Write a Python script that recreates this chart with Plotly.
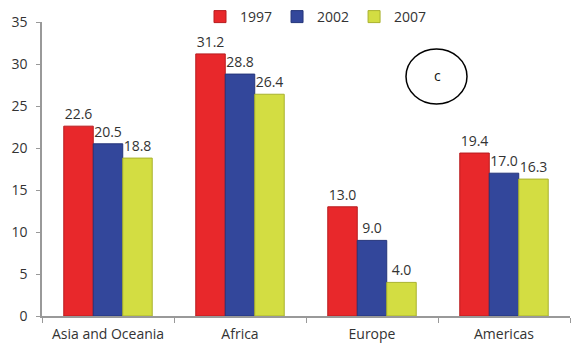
import plotly.graph_objects as go

regions = ["Asia and Oceania", "Africa", "Europe", "Americas"]
years = ["1997", "2002", "2007"]
values_1997 = [22.6, 31.2, 13.0, 19.4]
values_2002 = [20.5, 28.8, 9.0, 17.0]
values_2007 = [18.8, 26.4, 4.0, 16.3]
y_ticks = [0, 5, 10, 15, 20, 25, 30, 35]

colors = ["#E8282B", "#33479B", "#D3DD42"]
edges = ["#B81C1F", "#25357A", "#A9B22E"]

fig = go.Figure()
for name, vals, c, e in zip(years, [values_1997, values_2002, values_2007], colors, edges):
    fig.add_trace(go.Bar(
        name=name, x=regions, y=vals,
        marker=dict(color=c, line=dict(color=e, width=1)),
        text=[f"{v:.1f}" for v in vals], textposition="outside",
        textfont=dict(size=14, color="#333333"), cliponaxis=False,
    ))

L, R, T, B = 42, 4, 22, 29
W, H = 574, 345
pw, ph = W - L - R, H - T - B

fig.update_layout(
    width=W, height=H,
    margin=dict(l=L, r=R, t=T, b=B, autoexpand=False),
    barmode="group", bargap=0.33, bargroupgap=0,
    plot_bgcolor="white", paper_bgcolor="white",
    font=dict(family="Open Sans, DejaVu Sans, sans-serif", size=14, color="#333333"),
    legend=dict(orientation="h", x=(200 - L) / pw, xanchor="left", y=(316 - 17) / ph, yanchor="middle",
                font=dict(size=14), itemwidth=30, tracegroupgap=0, bgcolor="rgba(0,0,0,0)"),
    showlegend=True,
)
fig.update_yaxes(range=[0, 35], tickvals=y_ticks, showgrid=False, showline=True,
                 linecolor="#999999", linewidth=1.5, ticks="outside", ticklen=4,
                 tickcolor="#999999", zeroline=False, ticklabelstandoff=6)
fig.update_xaxes(showgrid=False, showline=True, linecolor="#999999", linewidth=1.5,
                 ticks="outside", ticklen=5, tickcolor="#999999", tickson="boundaries",
                 ticklabelstandoff=4)

fig.add_shape(type="circle", xref="paper", yref="paper",
              x0=(406 - L) / pw, x1=(467 - L) / pw,
              y0=(316 - 104) / ph, y1=(316 - 49) / ph,
              line=dict(color="black", width=1.5))
fig.add_annotation(text="c", xref="paper", yref="paper",
                   x=(437 - L) / pw, y=(316 - 77) / ph, xanchor="center", yanchor="middle",
                   xshift=0, yshift=2, showarrow=False,
                   font=dict(size=14, color="#111111"))

fig.write_html("out.html")
